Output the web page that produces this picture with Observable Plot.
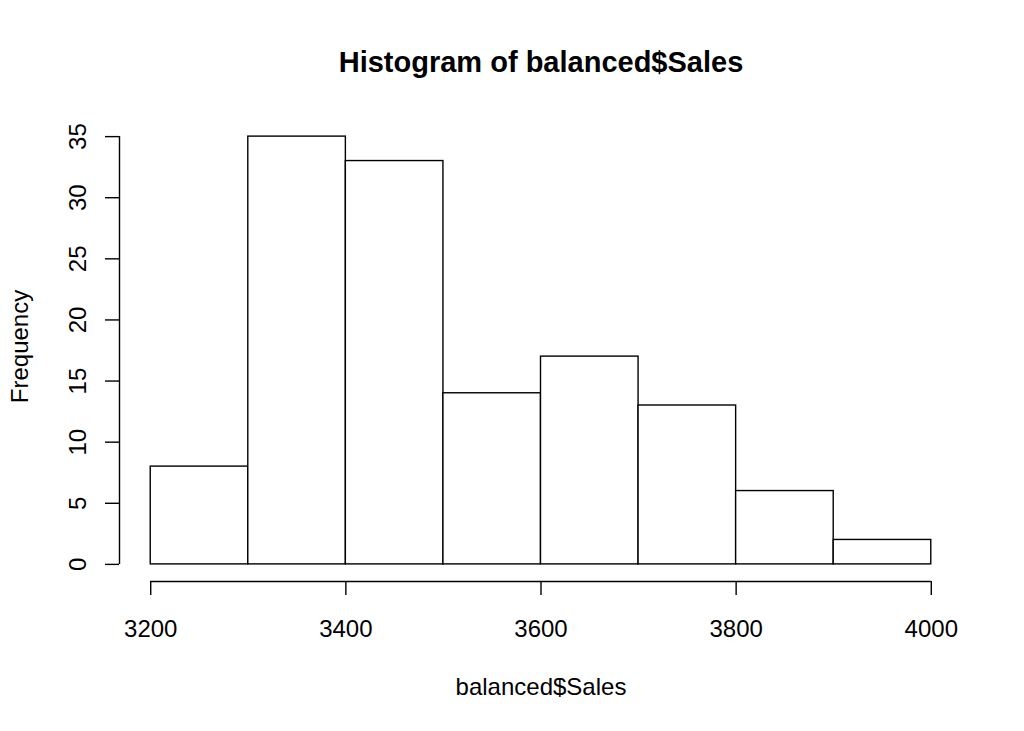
<!DOCTYPE html>
<html>
<head>
<meta charset="utf-8">
<script src="https://cdn.jsdelivr.net/npm/d3@7"></script>
<script src="https://cdn.jsdelivr.net/npm/@observablehq/plot@0.6"></script>
<style>
  html, body { margin: 0; padding: 0; background: #fff; }
  svg { display: block; }
</style>
</head>
<body>
<div id="chart"></div>
<script>
// ---- data ----
const binStarts = [3200, 3300, 3400, 3500, 3600, 3700, 3800, 3900];
const binEnds   = [3300, 3400, 3500, 3600, 3700, 3800, 3900, 4000];
const counts    = [8, 35, 33, 14, 17, 13, 6, 2];
const xTicks = [3200, 3400, 3600, 3800, 4000];
const yTicks = [0, 5, 10, 15, 20, 25, 30, 35];
const titleText = "Histogram of balanced$Sales";
const xLabel = "balanced$Sales";
const yLabel = "Frequency";

const bins = binStarts.map((s, i) => ({x1: s, x2: binEnds[i], count: counts[i]}));

// R-style 4% axis extension
const xMin = d3.min(binStarts), xMax = d3.max(binEnds);
const yMaxData = d3.max(counts);
const xPad = (xMax - xMin) * 0.04;
const yPad = yMaxData * 0.04;
const xDomain = [xMin - xPad, xMax + xPad];
const yDomain = [0 - yPad, yMaxData + yPad];

const font = "'Liberation Sans', Arial, Helvetica, sans-serif";
const ink = "#000";

const chart = Plot.plot({
  width: 1024,
  height: 731,
  marginLeft: 119,
  marginRight: 62,
  marginTop: 119,
  marginBottom: 150,
  style: {fontFamily: font, fontSize: "24px", color: ink, background: "#fff"},
  x: {domain: xDomain},
  y: {domain: yDomain},
  marks: [
    Plot.rectY(bins, {x1: "x1", x2: "x2", y1: 0, y2: "count", fill: "#fff", stroke: ink, strokeWidth: 1.4}),
    // axis lines spanning tick range only
    Plot.ruleY([yDomain[0]], {x1: xTicks[0], x2: xTicks[xTicks.length - 1], stroke: ink, strokeWidth: 1.4}),
    Plot.ruleX([xDomain[0]], {y1: yTicks[0], y2: yTicks[yTicks.length - 1], stroke: ink, strokeWidth: 1.4}),
    Plot.axisX(xTicks, {anchor: "bottom", tickSize: 14, tickPadding: 24, strokeWidth: 1.4, stroke: ink, fill: ink, fontSize: 24, label: null, tickFormat: d => String(d)}),
    Plot.axisY(yTicks, {anchor: "left", tickSize: 14, tickPadding: 20, tickRotate: -90, strokeWidth: 1.4, stroke: ink, fill: ink, fontSize: 24, label: null, tickFormat: d => String(d)}),
    Plot.text([titleText], {frameAnchor: "top", dy: -57, fontWeight: "bold", fontSize: 29, fill: ink, lineAnchor: "middle", textAnchor: "middle"}),
    Plot.text([xLabel], {frameAnchor: "bottom", dy: 106, fontSize: 24, fill: ink, lineAnchor: "middle", textAnchor: "middle"}),
    Plot.text([yLabel], {frameAnchor: "left", dx: -99, dy: -4, rotate: -90, fontSize: 24, fill: ink, lineAnchor: "middle", textAnchor: "middle"})
  ]
});
document.getElementById("chart").appendChild(chart);
</script>
</body>
</html>
